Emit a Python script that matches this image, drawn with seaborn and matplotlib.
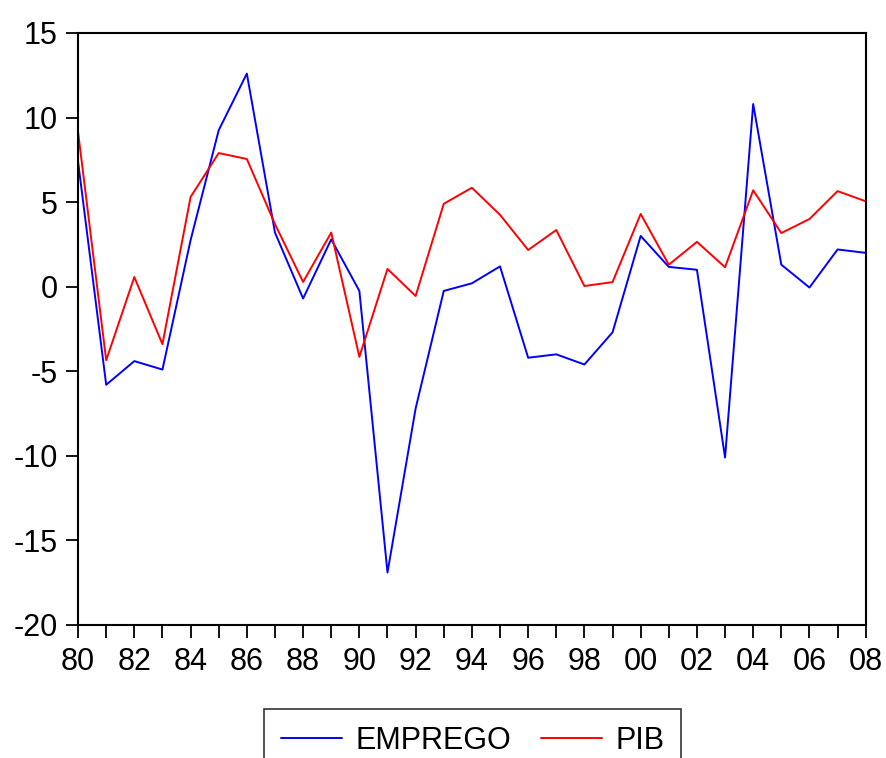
import matplotlib
matplotlib.use("Agg")
import matplotlib.pyplot as plt
import pandas as pd
import seaborn as sns

years = list(range(1980, 2009))
emprego = [7.4, -5.8, -4.4, -4.9, 2.75, 9.25, 12.6, 3.2, -0.7, 2.8, -0.25,
           -16.9, -7.2, -0.25, 0.2, 1.2, -4.2, -4.0, -4.6, -2.7, 3.0,
           1.17, 1.0, -10.1, 10.8, 1.3, -0.05, 2.2, 2.0]
pib = [9.15, -4.35, 0.57, -3.4, 5.3, 7.9, 7.55, 3.7, 0.28, 3.2, -4.15,
       1.05, -0.55, 4.9, 5.85, 4.25, 2.17, 3.35, 0.04, 0.27, 4.3,
       1.3, 2.65, 1.15, 5.7, 3.17, 4.0, 5.65, 5.05]
x_ticks = list(range(1980, 2009, 2))
x_labels = ['80', '82', '84', '86', '88', '90', '92', '94', '96', '98',
            '00', '02', '04', '06', '08']
y_ticks = [-20, -15, -10, -5, 0, 5, 10, 15]

df = pd.DataFrame({'ano': years * 2,
                   'valor': emprego + pib,
                   'serie': ['EMPREGO'] * len(years) + ['PIB'] * len(years)})

sns.set_style('white')
plt.rcParams['font.family'] = ['Liberation Sans', 'DejaVu Sans']
plt.rcParams['axes.unicode_minus'] = False
plt.rcParams['text.color'] = 'black'

fig = plt.figure(figsize=(8.87, 7.58), dpi=100)
ax = fig.add_axes([0.088, 0.1755, 0.888, 0.781])

sns.lineplot(data=df, x='ano', y='valor', hue='serie',
             palette={'EMPREGO': '#0000ff', 'PIB': '#ff0000'},
             linewidth=1.4, ax=ax)

ax.set_xlim(1980, 2008)
ax.set_ylim(-20, 15)
ax.set_xticks(years, minor=True)
ax.set_xticks(x_ticks)
ax.set_xticklabels(x_labels)
ax.set_yticks(y_ticks)
ax.set_xlabel('')
ax.set_ylabel('')
for s in ax.spines.values():
    s.set_color('black')
    s.set_linewidth(1.5)
ax.tick_params(axis='both', which='both', direction='out', length=9,
               width=1.3, color='black', labelsize=22, labelcolor='black')
ax.tick_params(axis='x', which='both', bottom=True, pad=7)
ax.tick_params(axis='y', left=True, pad=5.5)

h, l = ax.get_legend_handles_labels()
ax.get_legend().remove()
leg = fig.legend(h, l, loc='upper center', bbox_to_anchor=(0.533, 0.0646),
                 borderaxespad=0, ncol=2, fontsize=22, frameon=True,
                 fancybox=False, edgecolor='black', handlelength=2.0,
                 handletextpad=0.45, columnspacing=0.95, borderpad=0.55)
leg.get_frame().set_linewidth(1.2)
for line in leg.get_lines():
    line.set_linewidth(1.4)

fig.savefig('out.png', dpi=100)
